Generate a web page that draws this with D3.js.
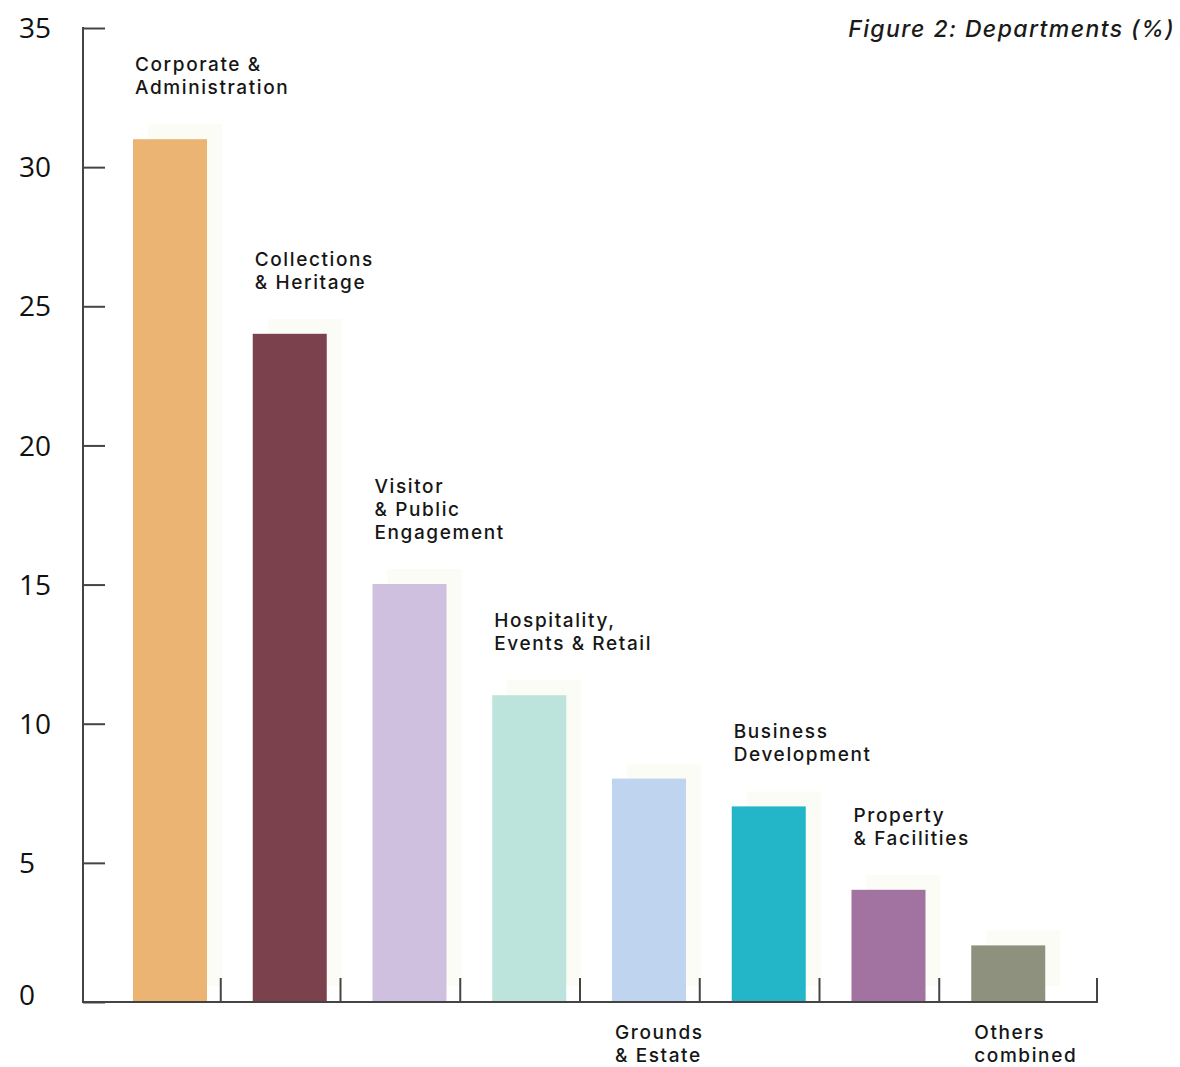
<!DOCTYPE html>
<html><head><meta charset="utf-8">
<script src="https://cdn.jsdelivr.net/npm/d3@7"></script>
<style>
html,body{margin:0;padding:0;background:#fff;}
svg{display:block;}
</style></head>
<body>
<svg id="chart" width="1180" height="1067"></svg>
<script>
const categories = ["Corporate & Administration","Collections & Heritage","Visitor & Public Engagement","Hospitality, Events & Retail","Grounds & Estate","Business Development","Property & Facilities","Others combined"];
const labelLines = [["Corporate &","Administration"],["Collections","& Heritage"],["Visitor","& Public","Engagement"],["Hospitality,","Events & Retail"],["Grounds","& Estate"],["Business","Development"],["Property","& Facilities"],["Others","combined"]];
const labelBelow = [false,false,false,false,true,false,false,true];
const values = [31,24,15,11,8,7,4,2];
const colors = ["#EBB473","#7B414C","#CFC0DF","#BDE4DC","#BFD4EE","#23B5C8","#A273A1","#8D917D"];
const yTicks = [0,5,10,15,20,25,30,35];
const title = "Figure 2: Departments (%)";

const svg = d3.select("#chart");
const axisX0 = 83, axisX1 = 1097, baseY = 1002, topY = 28;
const y = d3.scaleLinear().domain([0,35]).range([baseY-1, topY]);
const yAxisScale = d3.scaleLinear().domain([0,35]).range([baseY, topY]);
const x = d3.scaleBand().domain(categories).range([101, 1059]).paddingInner(0).paddingOuter(0);
const barOff = 32, barW = 74, sh = 15;

// shadows
svg.append("g").selectAll("rect").data(categories).join("rect")
  .attr("x", (d,i)=>x(d)+barOff+sh)
  .attr("y", (d,i)=>y(values[i])-sh)
  .attr("width", barW)
  .attr("height", (d,i)=>y(0)-y(values[i]))
  .attr("fill", "#fcfcf6");

// bars
svg.append("g").selectAll("rect").data(categories).join("rect")
  .attr("x", d=>x(d)+barOff)
  .attr("y", (d,i)=>y(values[i]))
  .attr("width", barW)
  .attr("height", (d,i)=>y(0)-y(values[i]))
  .attr("fill", (d,i)=>colors[i]);

// y axis
const yAxis = d3.axisRight(yAxisScale).tickValues(yTicks).tickSize(22).tickFormat("");
const yg = svg.append("g").attr("transform", `translate(${axisX0},0)`).call(yAxis);
yg.select(".domain").remove();
yg.selectAll(".tick line").attr("stroke","#444").attr("stroke-width",2);
svg.append("line").attr("x1",axisX0).attr("x2",axisX0).attr("y1",topY-1).attr("y2",baseY+1)
  .attr("stroke","#444").attr("stroke-width",2);
svg.append("g").selectAll("text").data(yTicks).join("text")
  .attr("x", 19)
  .attr("y", d=> yAxisScale(d) + (d===0 ? -7 : 0))
  .attr("dy","0.36em")
  .attr("font-family","'Open Sans', sans-serif")
  .attr("font-size", 28)
  .attr("fill","#111")
  .text(d=>d);

// x axis
svg.append("line").attr("x1",axisX0-1).attr("x2",axisX1+1).attr("y1",baseY).attr("y2",baseY)
  .attr("stroke","#444").attr("stroke-width",2);
const tickXs = categories.slice(0, categories.length-1).map(c=>x(c)+x.step()).concat([axisX1]);
svg.append("g").selectAll("line").data(tickXs).join("line")
  .attr("x1",d=>d).attr("x2",d=>d).attr("y1",baseY-24).attr("y2",baseY)
  .attr("stroke","#444").attr("stroke-width",2);

// labels
const lh = 23;
const lab = svg.append("g").attr("font-family","Inter, sans-serif").attr("font-size",19)
  .attr("font-weight",500).attr("fill","#161616").attr("letter-spacing","1.6px");
categories.forEach((c,i)=>{
  const lines = labelLines[i];
  const x0 = x(c)+barOff+ (labelBelow[i] ? 3 : 2);
  let y0;
  if (labelBelow[i]) y0 = baseY + 37;
  else y0 = y(values[i]) - 45 - (lines.length-1)*lh;
  lines.forEach((l,k)=>{
    lab.append("text").attr("x",x0).attr("y", y0 + k*lh).text(l);
  });
});

// title
svg.append("text").attr("x",1175).attr("y",37).attr("text-anchor","end")
  .attr("font-family","Inter, sans-serif").attr("font-style","italic").attr("font-weight",500)
  .attr("font-size",23).attr("fill","#1a1a1a").attr("letter-spacing","1.4px").text(title);
</script>
</body></html>
